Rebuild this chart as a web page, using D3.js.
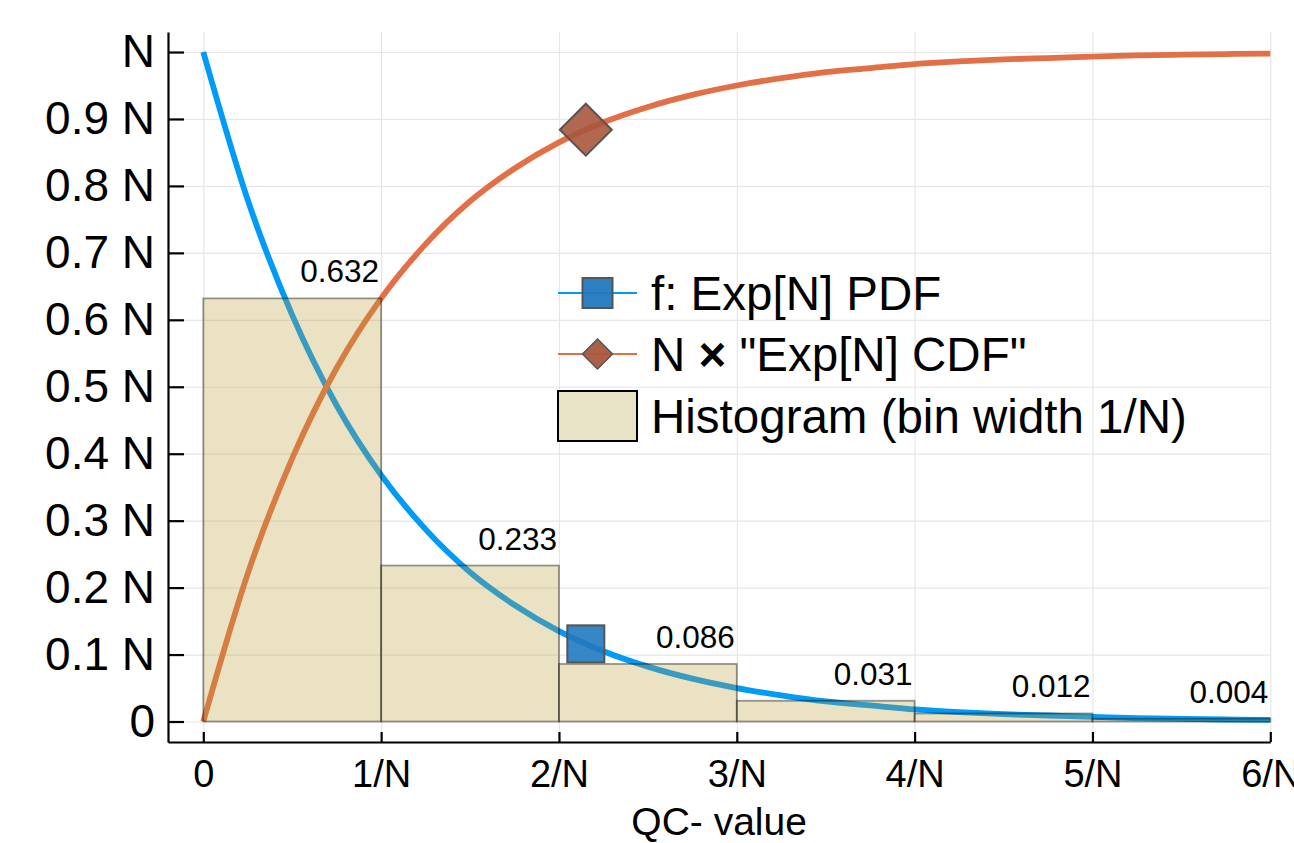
<!DOCTYPE html>
<html>
<head>
<meta charset="utf-8">
<script src="https://cdn.jsdelivr.net/npm/d3@7"></script>
<style>
  html, body { margin: 0; padding: 0; background: #fff; }
  svg { display: block; font-family: "Liberation Sans", Arial, Helvetica, sans-serif; }
</style>
</head>
<body>
<svg id="chart" width="1294" height="843"></svg>
<script>
// ---- data ----
const xTickValues = [0, 1, 2, 3, 4, 5, 6];
const xTickLabels = ["0", "1/N", "2/N", "3/N", "4/N", "5/N", "6/N"];
const yTickValues = [0, 0.1, 0.2, 0.3, 0.4, 0.5, 0.6, 0.7, 0.8, 0.9, 1.0];
const yTickLabels = ["0", "0.1 N", "0.2 N", "0.3 N", "0.4 N", "0.5 N", "0.6 N", "0.7 N", "0.8 N", "0.9 N", "N"];

const binEdges = [0, 1, 2, 3, 4, 5, 6];
const binValues = [0.632, 0.233, 0.086, 0.031, 0.012, 0.004];
const binLabels = ["0.632", "0.233", "0.086", "0.031", "0.012", "0.004"];

const curveX = [0, 0.25, 0.5, 0.75, 1, 1.25, 1.5, 1.75, 2, 2.25, 2.5, 2.75, 3, 3.25, 3.5, 3.75, 4, 4.25, 4.5, 4.75, 5, 5.25, 5.5, 5.75, 6];
const pdfValues = [1.0, 0.779, 0.607, 0.472, 0.368, 0.287, 0.223, 0.174, 0.135, 0.105, 0.082, 0.064, 0.050, 0.039, 0.030, 0.024, 0.018, 0.014, 0.011, 0.009, 0.007, 0.005, 0.004, 0.003, 0.0025];
const cdfValues = [0.0, 0.221, 0.393, 0.528, 0.632, 0.713, 0.777, 0.826, 0.865, 0.895, 0.918, 0.936, 0.950, 0.961, 0.970, 0.976, 0.982, 0.986, 0.989, 0.991, 0.993, 0.995, 0.996, 0.997, 0.9975];

const markerX = [2.151];
const pdfMarkerY = [0.116];
const cdfMarkerY = [0.884];

const legendLabels = [["f: Exp[N] PDF"], ["N ", "\u00d7", " \"Exp[N] CDF\""], ["Histogram (bin width 1/N)"]];
const axisTitle = "QC- value";

// ---- layout ----
const svg = d3.select("#chart");
const pLeft = 168, pRight = 1270.3, pTop = 32, pBottom = 742;
const x = d3.scaleLinear().domain([-0.1985, 6]).range([pLeft, pRight]);
const y = d3.scaleLinear().domain([-0.0306, 1.0299]).range([pBottom, pTop]);

const C_PDF = "#009af9", C_CDF = "#e26f46";
const C_SQ = "#2179bf", C_DIA = "#a9573d";

// grid
const grid = svg.append("g");
grid.append("g").attr("transform", `translate(0,${pBottom})`)
  .call(d3.axisBottom(x).tickValues(xTickValues).tickSize(-(pBottom - pTop)).tickFormat(""))
  .call(g => { g.select(".domain").remove(); g.selectAll("line").attr("stroke", "#e6e6e6").attr("stroke-width", 1.2); });
grid.append("g").attr("transform", `translate(${pLeft},0)`)
  .call(d3.axisLeft(y).tickValues(yTickValues).tickSize(-(pRight - pLeft)).tickFormat(""))
  .call(g => { g.select(".domain").remove(); g.selectAll("line").attr("stroke", "#e6e6e6").attr("stroke-width", 1.2); });

// curves
const pdfPts = curveX.map((v, i) => [v, pdfValues[i]]);
const cdfPts = curveX.map((v, i) => [v, cdfValues[i]]);
const line = d3.line().x(d => x(d[0])).y(d => y(d[1])).curve(d3.curveMonotoneX);
svg.append("path").attr("d", line(pdfPts)).attr("fill", "none").attr("stroke", C_PDF).attr("stroke-width", 5.8);
svg.append("path").attr("d", line(cdfPts)).attr("fill", "none").attr("stroke", C_CDF).attr("stroke-width", 5.8);

// histogram bars (semi-transparent, above the curves)
const bars = binValues.map((v, i) => ({ x0: binEdges[i], x1: binEdges[i + 1], v, label: binLabels[i] }));
svg.append("g").selectAll("rect").data(bars).join("rect")
  .attr("x", d => x(d.x0)).attr("width", d => x(d.x1) - x(d.x0))
  .attr("y", d => y(d.v)).attr("height", d => y(0) - y(d.v))
  .attr("fill", "rgb(185,160,55)").attr("fill-opacity", 0.3)
  .attr("stroke", "#000").attr("stroke-opacity", 0.4).attr("stroke-width", 1.8);

// bar labels
svg.append("g").selectAll("text").data(bars).join("text")
  .attr("x", d => x(d.x1) - 2).attr("y", d => y(d.v) - 16)
  .attr("text-anchor", "end").attr("font-size", 31.5).attr("fill", "#000")
  .text(d => d.label);

// markers
const sq = 37;
svg.append("g").selectAll("rect").data(markerX).join("rect")
  .attr("x", (d) => x(d) - sq / 2).attr("y", (d, i) => y(pdfMarkerY[i]) - sq / 2)
  .attr("width", sq).attr("height", sq)
  .attr("fill", C_SQ).attr("fill-opacity", 0.9).attr("stroke", "#555").attr("stroke-width", 2);
const dh = 26;
svg.append("g").selectAll("path").data(markerX).join("path")
  .attr("d", (d, i) => { const cx = x(d), cy = y(cdfMarkerY[i]); return `M${cx},${cy - dh}L${cx + dh},${cy}L${cx},${cy + dh}L${cx - dh},${cy}Z`; })
  .attr("fill", C_DIA).attr("fill-opacity", 0.9).attr("stroke", "#555").attr("stroke-width", 2);

// axes
const yAxis = svg.append("g").attr("transform", `translate(${pLeft},0)`)
  .call(d3.axisLeft(y).tickValues(yTickValues).tickSize(-16).tickSizeOuter(0).tickPadding(13)
    .tickFormat((d, i) => yTickLabels[i]));
yAxis.select(".domain").attr("stroke", "#000").attr("stroke-width", 2.2);
yAxis.selectAll(".tick line").attr("stroke", "#000").attr("stroke-width", 2.2);
yAxis.selectAll(".tick text").attr("font-size", 46).attr("fill", "#000").attr("font-family", "Liberation Sans, Arial, sans-serif");

const xAxis = svg.append("g").attr("transform", `translate(0,${pBottom})`)
  .call(d3.axisBottom(x).tickValues(xTickValues).tickSize(-10).tickSizeOuter(0).tickPadding(18)
    .tickFormat((d, i) => xTickLabels[i]));
xAxis.select(".domain").attr("stroke", "#000").attr("stroke-width", 2.2);
xAxis.selectAll(".tick line").attr("stroke", "#000").attr("stroke-width", 2.2);
xAxis.selectAll(".tick text").attr("font-size", 38).attr("fill", "#000").attr("font-family", "Liberation Sans, Arial, sans-serif");

// axis title
svg.append("text").attr("x", (pLeft + pRight) / 2).attr("y", 835)
  .attr("text-anchor", "middle").attr("font-size", 39).attr("fill", "#000").text(axisTitle);

// legend
const lgX = 558, lgW = 79, lgText = 651;
const rows = [293, 354, 416];
const lg = svg.append("g");
lg.append("line").attr("x1", lgX).attr("x2", lgX + lgW).attr("y1", rows[0]).attr("y2", rows[0]).attr("stroke", C_PDF).attr("stroke-width", 2);
lg.append("rect").attr("x", lgX + lgW / 2 - 15).attr("y", rows[0] - 15).attr("width", 30).attr("height", 30)
  .attr("fill", C_SQ).attr("fill-opacity", 0.95).attr("stroke", "#555").attr("stroke-width", 2);
lg.append("line").attr("x1", lgX).attr("x2", lgX + lgW).attr("y1", rows[1]).attr("y2", rows[1]).attr("stroke", C_CDF).attr("stroke-width", 2);
lg.append("path").attr("d", () => { const cx = lgX + lgW / 2, cy = rows[1], h = 15; return `M${cx},${cy - h}L${cx + h},${cy}L${cx},${cy + h}L${cx - h},${cy}Z`; })
  .attr("fill", C_DIA).attr("fill-opacity", 0.95).attr("stroke", "#555").attr("stroke-width", 1.5);
lg.append("rect").attr("x", lgX).attr("y", rows[2] - 25).attr("width", lgW).attr("height", 50)
  .attr("fill", "#e8e2c6").attr("stroke", "#000").attr("stroke-width", 2);
const lt = lg.selectAll("text").data(legendLabels).join("text")
  .attr("x", lgText).attr("y", (d, i) => rows[i]).attr("dy", "0.35em")
  .attr("font-size", 47.5).attr("fill", "#000");
lt.selectAll("tspan").data(d => d).join("tspan")
  .attr("font-weight", s => s === "\u00d7" ? "bold" : null)
  .text(s => s);
</script>
</body>
</html>
